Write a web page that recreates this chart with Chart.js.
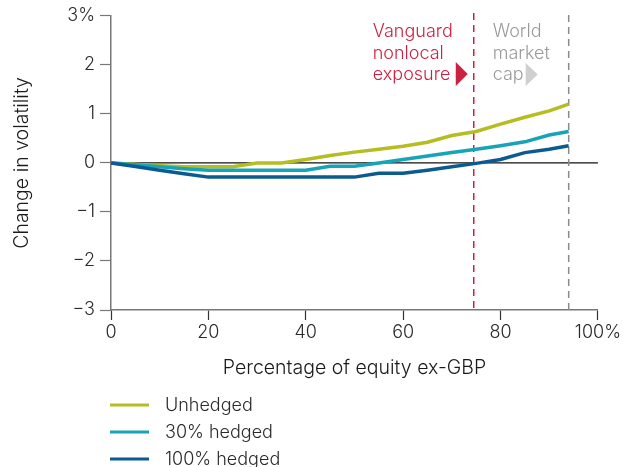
<!DOCTYPE html>
<html>
<head>
<meta charset="utf-8">
<script src="https://cdn.jsdelivr.net/npm/chart.js@4"></script>
<style>
  html, body { margin: 0; padding: 0; background: #fff; }
  #wrap { width: 623px; height: 467px; }
</style>
</head>
<body>
<div id="wrap"><canvas id="myChart" width="623" height="467"></canvas></div>
<script>
// share of equity held outside the UK (%)
var equityShare = [0, 5, 10, 15, 20, 25, 30, 35, 40, 45, 50, 55, 60, 65, 70, 75, 80, 85, 90, 94];
// change in volatility (percentage points)
var unhedged   = [0, -0.03, -0.06, -0.08, -0.08, -0.08, 0, 0, 0.07, 0.15, 0.22, 0.28, 0.34, 0.42, 0.56, 0.64, 0.79, 0.93, 1.06, 1.2];
var hedged30   = [0, -0.04, -0.08, -0.12, -0.15, -0.15, -0.15, -0.15, -0.15, -0.07, -0.07, 0, 0.07, 0.14, 0.21, 0.28, 0.35, 0.43, 0.57, 0.64];
var hedged100  = [0, -0.075, -0.15, -0.22, -0.29, -0.29, -0.29, -0.29, -0.29, -0.29, -0.29, -0.21, -0.21, -0.15, -0.08, -0.01, 0.07, 0.21, 0.28, 0.35];
var seriesNames = ['Unhedged', '30% hedged', '100% hedged'];
var yTicks = [3, 2, 1, 0, -1, -2, -3];
var xTicks = [0, 20, 40, 60, 80, 100];
var vanguardLine = 74.5;
var marketCapLine = 94;

var FONT = "Inter, 'Liberation Sans', Arial, sans-serif";
var colors = ['#b5bd22', '#17a4b6', '#0b5b90'];

function pts(vals) {
  return vals.map(function (v, i) { return { x: equityShare[i], y: v }; });
}

var extras = {
  id: 'extras',
  beforeDatasetsDraw: function (chart) {
    var c = chart.ctx, a = chart.chartArea;
    var xs = chart.scales.x, ys = chart.scales.y;
    c.save();
    // zero line
    var y0 = ys.getPixelForValue(0);
    c.strokeStyle = '#111';
    c.lineWidth = 1.2;
    c.beginPath(); c.moveTo(a.left, y0); c.lineTo(a.right, y0); c.stroke();
    // dashed markers
    c.lineWidth = 1.5;
    c.setLineDash([7, 5]);
    var xr = xs.getPixelForValue(vanguardLine);
    c.strokeStyle = '#cc2042';
    c.beginPath(); c.moveTo(xr, 13); c.lineTo(xr, a.bottom); c.stroke();
    var xg = xs.getPixelForValue(marketCapLine);
    c.strokeStyle = '#8a8a8a';
    c.beginPath(); c.moveTo(xg, 15); c.lineTo(xg, a.bottom); c.stroke();
    c.restore();
  },
  afterDraw: function (chart) {
    var c = chart.ctx, xs = chart.scales.x;
    var xr = xs.getPixelForValue(vanguardLine);
    var xg = xs.getPixelForValue(marketCapLine);
    c.save();
    c.font = '300 18px ' + FONT;
    c.textBaseline = 'alphabetic';
    c.textAlign = 'left';
    c.fillStyle = '#cc2042';
    ['Vanguard', 'nonlocal', 'exposure'].forEach(function (t, i) {
      c.fillText(t, xr - 101, 37 + i * 21.5);
    });
    c.beginPath(); c.moveTo(xr - 18, 62); c.lineTo(xr - 18, 86); c.lineTo(xr - 6, 74); c.closePath(); c.fill();
    c.fillStyle = '#9a9a9a';
    ['World', 'market', 'cap'].forEach(function (t, i) {
      c.fillText(t, xg - 76, 37 + i * 21.5);
    });
    c.fillStyle = '#cfcfcf';
    c.beginPath(); c.moveTo(xg - 43, 63); c.lineTo(xg - 43, 86); c.lineTo(xg - 31, 74.5); c.closePath(); c.fill();

    // legend, in series order
    c.textBaseline = 'middle';
    seriesNames.forEach(function (name, i) {
      var y = 405 + i * 27;
      c.strokeStyle = colors[i];
      c.lineWidth = 3;
      c.beginPath(); c.moveTo(110, y); c.lineTo(149, y); c.stroke();
      c.fillStyle = '#2a2a2a';
      c.fillText(name, 165, y + 1);
    });
    c.restore();
  }
};

var ctx = document.getElementById('myChart').getContext('2d');
var myChart = new Chart(ctx, {
  type: 'line',
  data: {
    datasets: [
      { label: seriesNames[2], data: pts(hedged100), borderColor: colors[2] },
      { label: seriesNames[1], data: pts(hedged30), borderColor: colors[1] },
      { label: seriesNames[0], data: pts(unhedged), borderColor: colors[0] }
    ].map(function (d) {
      d.borderWidth = 3.5; d.pointRadius = 0; d.tension = 0; d.fill = false;
      return d;
    })
  },
  options: {
    responsive: false,
    animation: false,
    layout: { padding: { top: 15, left: 0, right: 0, bottom: 87 } },
    plugins: { legend: { display: false }, tooltip: { enabled: false } },
    scales: {
      x: {
        type: 'linear', min: 0, max: 100,
        afterBuildTicks: function (s) { s.ticks = xTicks.map(function (v) { return { value: v }; }); },
        afterFit: function (s) { s.height = 70; },
        grid: { drawOnChartArea: false, drawTicks: true, tickLength: 10, tickColor: '#333', tickWidth: 1.2 },
        border: { display: true, color: '#777', width: 1.5 },
        ticks: {
          padding: 2, color: '#2a2a2a', maxRotation: 0, autoSkip: false,
          font: { family: FONT, size: 18, weight: '300' },
          callback: function (v) { return v === 100 ? '100%' : String(v); }
        },
        title: {
          display: true, text: 'Percentage of equity ex-GBP', color: '#1a1a1a',
          font: { family: FONT, size: 19.5, weight: '300' }, padding: { top: 0, bottom: 0 }
        }
      },
      y: {
        type: 'linear', min: -3, max: 3,
        afterBuildTicks: function (s) { s.ticks = yTicks.map(function (v) { return { value: v }; }); },
        afterFit: function (s) { s.width = 111; },
        grid: { drawOnChartArea: false, drawTicks: true, tickLength: 11, tickColor: '#777', tickWidth: 1.2 },
        border: { display: true, color: '#777', width: 1.5 },
        ticks: {
          padding: 5, color: '#2a2a2a', autoSkip: false,
          font: { family: FONT, size: 18, weight: '300' },
          callback: function (v) { return v === 3 ? '3%' : v < 0 ? '\u2212' + Math.abs(v) : String(v); }
        },
        title: {
          display: true, text: 'Change in volatility', color: '#1a1a1a',
          font: { family: FONT, size: 19.5, weight: '300' }, padding: { top: 10, bottom: 0 }
        }
      }
    }
  },
  plugins: [extras]
});
</script>
</body>
</html>
